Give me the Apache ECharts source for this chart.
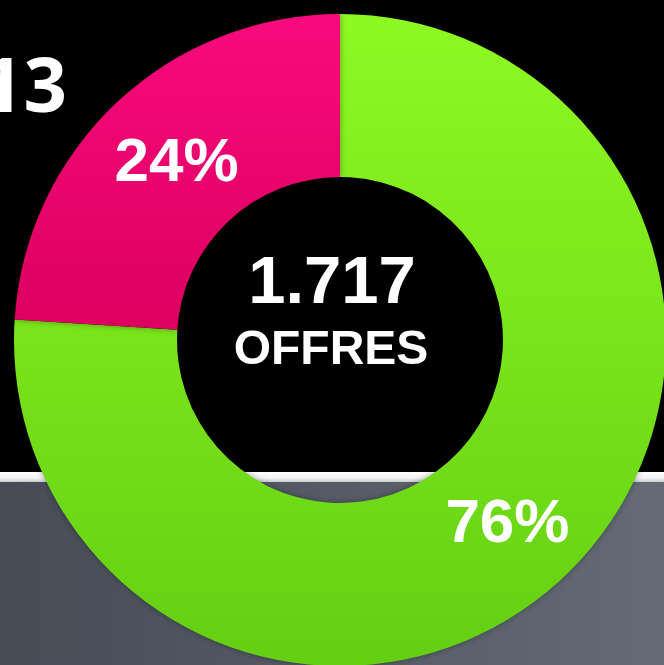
<!DOCTYPE html>
<html>
<head>
<meta charset="utf-8">
<script src="https://cdn.jsdelivr.net/npm/echarts@6/dist/echarts.min.js"></script>
<style>
    html, body { margin: 0; padding: 0; background: #000; }
    #chart { width: 664px; height: 665px; }
</style>
</head>
<body>
<div id="chart"></div>
<script>
// parts of the offers (percent)
const categories = ["B", "A"];
const shares = [76, 24];
const total = "1.717";
const totalLabel = "OFFRES";
const yearText = "2013";

const sliceColors = [
    ["#8ef922", "#64cf12"],
    ["#f80a7c", "#dc0060"],
];
// small nudges of the percent labels
const labelOffsets = [[-2, 4], [6, 4]];

const myChart = echarts.init(document.getElementById("chart"));
myChart.setOption({
    backgroundColor: "#000",
    animation: false,
    graphic: [
        {
            type: "rect",
            shape: { x: 0, y: 472, width: 664, height: 10 },
            style: {
                fill: {
                    type: "linear", x: 0, y: 0, x2: 0, y2: 1,
                    colorStops: [
                        { offset: 0, color: "#ffffff" },
                        { offset: 0.6, color: "#f4f4f4" },
                        { offset: 1, color: "#c9ccd0" },
                    ],
                },
            },
            z: -10,
        },
        {
            type: "rect",
            shape: { x: 0, y: 482, width: 664, height: 183 },
            style: {
                fill: {
                    type: "linear", x: 0, y: 0, x2: 1, y2: 0,
                    colorStops: [
                        { offset: 0, color: "#464b56" },
                        { offset: 1, color: "#656b76" },
                    ],
                },
            },
            z: -10,
        },
        {
            type: "text",
            style: {
                text: yearText,
                x: 67,
                y: 90,
                align: "right",
                verticalAlign: "middle",
                fill: "#fff",
                font: "bold 76px 'Open Sans', sans-serif",
            },
        },
        {
            type: "text",
            style: {
                text: total,
                x: 332,
                y: 285,
                align: "center",
                verticalAlign: "middle",
                fill: "#fff",
                font: "bold 67px 'Liberation Sans', Arial, sans-serif",
            },
            z: 100,
        },
        {
            type: "text",
            style: {
                text: totalLabel,
                x: 331,
                y: 351,
                align: "center",
                verticalAlign: "middle",
                fill: "#fff",
                font: "bold 48px 'Liberation Sans', Arial, sans-serif",
            },
            z: 100,
        },
    ],
    series: [
        {
            type: "pie",
            center: [340, 340],
            radius: [163, 326],
            startAngle: 90,
            clockwise: true,
            silent: true,
            label: {
                show: true,
                position: "inside",
                formatter: "{c}%",
                color: "#fff",
                fontSize: 62,
                fontWeight: "bold",
                fontFamily: "'Liberation Sans', Arial, sans-serif",
            },
            labelLine: { show: false },
            itemStyle: {
                borderWidth: 0,
                shadowBlur: 6,
                shadowColor: "rgba(0,0,0,0.35)",
            },
            data: categories.map((name, i) => ({
                name: name,
                value: shares[i],
                label: { offset: labelOffsets[i] },
                itemStyle: {
                    color: {
                        type: "linear", x: 0, y: 0, x2: 0, y2: 1,
                        colorStops: [
                            { offset: 0, color: sliceColors[i][0] },
                            { offset: 1, color: sliceColors[i][1] },
                        ],
                    },
                },
            })),
        },
    ],
});
</script>
</body>
</html>
